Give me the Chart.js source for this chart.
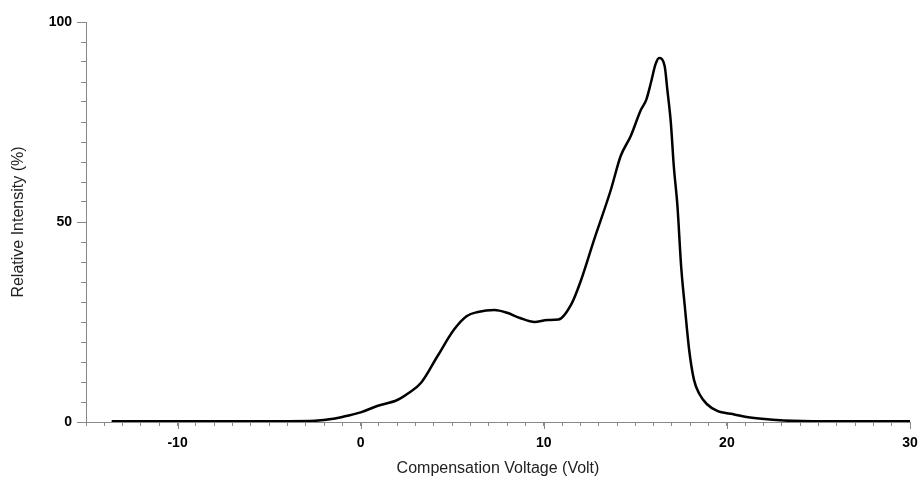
<!DOCTYPE html>
<html>
<head>
<meta charset="utf-8">
<script src="https://cdn.jsdelivr.net/npm/chart.js@4.4.1/dist/chart.umd.min.js"></script>
<style>
  html, body { margin: 0; padding: 0; background: #fff; }
  #wrap { width: 922px; height: 478px; }
</style>
</head>
<body>
<div id="wrap"><canvas id="grafica"></canvas></div>
<script>
// Datos
const voltaje = [-13.6, -8, -4, -2.5, -1.5, -0.8, 0, 0.9, 2.0, 2.6, 3.3, 4.2, 5.1, 5.8, 6.4, 7.3, 8.0, 8.7, 9.5, 10.2, 10.8, 11.5, 12.0, 12.75, 13.66, 14.2, 14.75, 15.3, 15.6, 15.85, 16.1, 16.3, 16.6, 16.75, 16.94, 17.1, 17.3, 17.5, 17.7, 17.94, 18.2, 18.5, 18.9, 19.5, 20.0, 20.4, 21.0, 21.9, 23.1, 25.3, 30];
const intensidad = [0.2, 0.2, 0.2, 0.3, 0.8, 1.5, 2.4, 4, 5.5, 7.2, 9.8, 16.5, 23.1, 26.5, 27.5, 28, 27.3, 26, 25, 25.5, 25.6, 29.4, 35, 45.6, 58, 66.5, 71.5, 78, 80.6, 84.8, 89.4, 91, 89, 83, 74.8, 64, 54, 39, 29, 18, 10.6, 7, 4.5, 2.7, 2.2, 1.9, 1.3, 0.8, 0.4, 0.2, 0.2];
const ticksX = [-10, 0, 10, 20, 30];
const ticksY = [0, 50, 100];

const puntos = voltaje.map(function (v, i) { return { x: v, y: intensidad[i] }; });

// Marcas mayores mas largas que las menores
const marcasMayores = {
    id: 'marcasMayores',
    afterDraw(chart) {
        const c = chart.ctx;
        const sx = chart.scales.x, sy = chart.scales.y;
        c.save();
        c.strokeStyle = '#888';
        c.lineWidth = 1;
        c.beginPath();
        ticksX.forEach(function (v) {
            const px = Math.round(sx.getPixelForValue(v)) + 0.5;
            c.moveTo(px, sx.top);
            c.lineTo(px, sx.top + 7);
        });
        ticksY.forEach(function (v) {
            const py = Math.round(sy.getPixelForValue(v)) + 0.5;
            c.moveTo(sy.right, py);
            c.lineTo(sy.right - 9, py);
        });
        c.stroke();
        c.restore();
    }
};

new Chart(document.getElementById('grafica').getContext('2d'), {
    type: 'scatter',
    data: {
        datasets: [{
            data: puntos,
            showLine: true,
            borderColor: '#000',
            borderWidth: 2.5,
            pointRadius: 0,
            cubicInterpolationMode: 'monotone',
            fill: false
        }]
    },
    options: {
        responsive: true,
        maintainAspectRatio: false,
        animation: false,
        layout: { padding: { top: 22, right: 12, left: 0, bottom: 0 } },
        plugins: { legend: { display: false }, tooltip: { enabled: false } },
        scales: {
            x: {
                type: 'linear',
                min: -15,
                max: 30,
                afterFit: function (s) { s.height = 56; s.paddingRight = 0; s.paddingLeft = 0; },
                border: { color: '#888', width: 1 },
                grid: { drawOnChartArea: false, drawTicks: true, tickLength: 4, color: '#888' },
                ticks: {
                    stepSize: 1,
                    autoSkip: false,
                    maxRotation: 0,
                    padding: 9,
                    color: '#000',
                    font: { family: 'Liberation Sans, Arial, sans-serif', size: 14, weight: 'bold' },
                    callback: function (v) { return v % 10 === 0 ? v : ''; }
                },
                title: {
                    display: true,
                    text: 'Compensation Voltage (Volt)',
                    color: '#222',
                    padding: { top: 0, bottom: 0 },
                    font: { family: 'Liberation Sans, Arial, sans-serif', size: 16 }
                }
            },
            y: {
                min: 0,
                max: 100,
                afterFit: function (s) { s.width = 86; },
                border: { color: '#888', width: 1 },
                grid: { drawOnChartArea: false, drawTicks: true, tickLength: 5, color: '#888' },
                ticks: {
                    stepSize: 5,
                    autoSkip: false,
                    padding: 9,
                    color: '#000',
                    font: { family: 'Liberation Sans, Arial, sans-serif', size: 14, weight: 'bold' },
                    callback: function (v) { return v % 50 === 0 ? v : ''; }
                },
                title: {
                    display: true,
                    text: 'Relative Intensity (%)',
                    color: '#222',
                    padding: { top: 9, bottom: 0 },
                    font: { family: 'Liberation Sans, Arial, sans-serif', size: 16 }
                }
            }
        }
    },
    plugins: [marcasMayores]
});
</script>
</body>
</html>
